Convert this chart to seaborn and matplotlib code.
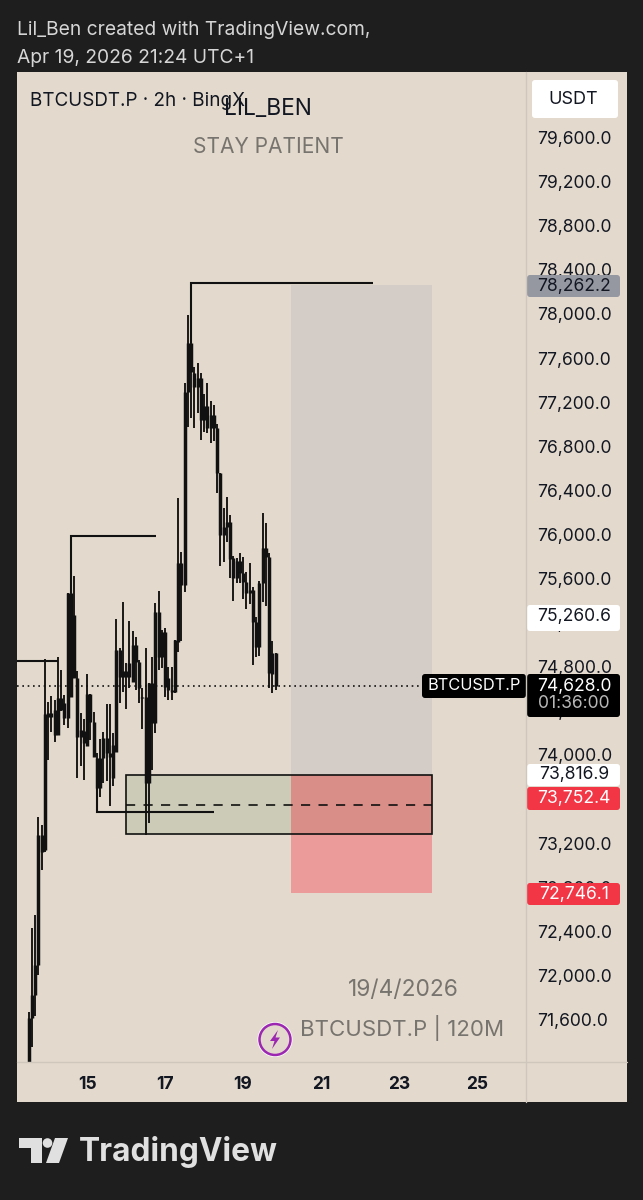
import numpy as np
import pandas as pd
import matplotlib
matplotlib.use('Agg')
import matplotlib.pyplot as plt
from matplotlib.patches import Rectangle, FancyBboxPatch, Polygon, Circle
import seaborn as sns

# 2h candles, first one is Apr 13 12:00
first_day = 13.5
highs = [71669, 72431, 72549, 73438, 73365, 74871, 74481, 74535, 74499, 74889, 74771, 74544, 75469, 75469,
         75624, 74762, 74381, 74327, 74735, 74553, 74390, 74018, 74145, 74209, 74463, 74463, 74200, 75234,
         74970, 75388, 74834, 75215, 75125, 75070, 74862, 74608, 74970, 74653, 74889, 75379, 75487, 75134,
         75152, 74798, 74798, 75043, 76331, 75841, 77374, 77991, 77737, 77519, 77555, 77465, 77274, 77374,
         77211, 77175, 77002, 76558, 76240, 76340, 76177, 75805, 75787, 75832, 75796, 75660, 75741, 75524,
         75252, 75578, 76195, 76104, 75832, 75034, 74925]
body_tops = [71615, 71823, 72095, 73274, 73274, 74372, 74381, 74381, 74408, 74517, 74517, 74472, 75469, 75469,
             75270, 74698, 74227, 74218, 74553, 74553, 74299, 73973, 73973, 74154, 74154, 74018, 74091, 74952,
             74952, 74762, 74762, 74834, 74998, 74998, 74844, 74526, 74526, 74653, 74653, 75297, 75297, 75116,
             75116, 74698, 74590, 75043, 75741, 75741, 77292, 77737, 77737, 77465, 77419, 77419, 77165, 77165,
             77084, 77084, 76966, 76558, 76068, 76113, 76113, 75787, 75760, 75760, 75651, 75569, 75497, 75497,
             75206, 75560, 75877, 75877, 75796, 74925, 74925]
body_bottoms = [71215, 71615, 71823, 72095, 73120, 73138, 74345, 74345, 74181, 74181, 74408, 74336, 74336, 74526,
                74698, 74163, 74163, 74109, 74082, 74299, 73982, 73701, 73701, 73973, 74018, 73982, 73791, 74027,
                74707, 74707, 74707, 74707, 74662, 74844, 74608, 74517, 73746, 73746, 74290, 74290, 74889, 74889,
                74617, 74590, 74571, 74571, 75025, 75542, 75542, 77292, 77474, 77338, 77338, 77038, 77038, 76966,
                76966, 76966, 76558, 75995, 75995, 76068, 75778, 75605, 75605, 75651, 75569, 75469, 75469, 75206,
                74980, 74980, 75560, 75796, 74744, 74735, 74628]
lows = [71098, 71352, 71633, 72005, 72957, 73120, 73955, 74209, 74118, 74181, 74399, 74272, 74245, 74526,
        74698, 73791, 73900, 73773, 74082, 74136, 73982, 73683, 73619, 73746, 73764, 73537, 73719, 74027,
        74472, 74571, 74417, 74608, 74662, 74590, 74472, 74236, 73274, 73383, 73864, 74200, 74771, 74789,
        74526, 74499, 74499, 74562, 74934, 75034, 75478, 76975, 77057, 76966, 77102, 76857, 76930, 76921,
        76830, 76848, 76376, 75714, 75750, 75932, 75605, 75397, 75560, 75560, 75415, 75324, 75370, 74816,
        74889, 74898, 75388, 75351, 74608, 74562, 74590]

price_ticks = [71600, 72000, 72400, 72800, 73200, 73600, 74000, 74400, 74800, 75200, 75600, 76000,
               76400, 76800, 77200, 77600, 78000, 78400, 78800, 79200, 79600]
day_ticks = [15, 17, 19, 21, 23, 25]

last_price = 74628
target_price = 78262.2
entry_price = 73816.9
stop_price = 72746.1
position_days = [20.23, 23.85]
zone_days = [16.0, 23.85]
zone_prices = [73283, 73816.9]
zone_mid = 73546

# swing lines: start day, end day, level, price where the drop line ends
level_starts = [17.667, 14.583, 13.2, 15.256]
level_ends = [22.33, 16.77, 14.25, 18.26]
level_prices = [78281, 75986, 74853, 73483]
level_drops = [77737, 75469, 74853, 73701]

BG = '#1e1e1e'
PANE = '#e3dacd'
INK = '#131722'
MUTED = '#77736e'
LINE = '#111111'
FONT = ['Inter', 'DejaVu Sans']
W, H = 643, 1200

sns.set_theme(style='white')
plt.rcParams['font.family'] = FONT

fig = plt.figure(figsize=(W / 100, H / 100), dpi=100, facecolor=BG)


def px_axes(zorder):
    a = fig.add_axes([0, 0, 1, 1], zorder=zorder)
    a.set_xlim(0, W)
    a.set_ylim(H, 0)
    a.axis('off')
    a.patch.set_alpha(0)
    return a


back = px_axes(0)
back.add_patch(Rectangle((17, 72), 610, 1030, fc=PANE, ec='none'))

ax = fig.add_axes([17 / W, 1 - 1062 / H, 509 / W, 990 / H], zorder=1)
ax.patch.set_alpha(0)
ax.set_xlim(13.205, 26.256)
ax.set_ylim(71215, 80195)
sns.despine(ax=ax, left=True, bottom=True, right=True, top=True)

# trade box and zone under the candles
box_width = position_days[1] - position_days[0]
zone_width = zone_days[1] - zone_days[0]
zone_height = zone_prices[1] - zone_prices[0]
ax.add_patch(Rectangle((position_days[0], entry_price), box_width, target_price - entry_price,
                       fc='#d4ccc6', ec='none', zorder=0.5))
ax.add_patch(Rectangle((position_days[0], stop_price), box_width, entry_price - stop_price,
                       fc='#ec9b9b', ec='none', zorder=0.5))
ax.add_patch(Rectangle((zone_days[0], zone_prices[0]), position_days[0] - zone_days[0], zone_height,
                       fc='#cccbb8', ec='none', zorder=0.6))
ax.add_patch(Rectangle((position_days[0], zone_prices[0]), box_width, zone_height,
                       fc='#d98e88', ec='none', zorder=0.6))
ax.add_patch(Rectangle((zone_days[0], zone_prices[0]), zone_width, zone_height,
                       fc='none', ec=LINE, lw=1.2, zorder=1))
ax.plot(zone_days, [zone_mid, zone_mid], color=LINE, lw=1.2, ls=(0, (5.5, 5)), zorder=1)
ax.axhline(last_price, color=LINE, lw=1.2, ls=(0, (1, 2.2)), zorder=1)

# candles as two seaborn line layers, wick then body
days = first_day + np.arange(len(highs)) / 12
wicks = pd.DataFrame({'candle': np.tile(np.arange(len(days)), 2), 'day': np.tile(days, 2),
                      'price': highs + lows})
bodies = pd.DataFrame({'candle': np.tile(np.arange(len(days)), 2), 'day': np.tile(days, 2),
                       'price': body_tops + body_bottoms})
sns.lineplot(data=wicks, x='day', y='price', units='candle', estimator=None, sort=False,
             color=LINE, lw=1.35, solid_capstyle='butt', legend=False, ax=ax, zorder=2)
sns.lineplot(data=bodies, x='day', y='price', units='candle', estimator=None, sort=False,
             color=LINE, lw=2.5, solid_capstyle='butt', legend=False, ax=ax, zorder=2)

for start, end, level, drop in zip(level_starts, level_ends, level_prices, level_drops):
    ax.plot([start, start, end], [drop, level, level], color=LINE, lw=1.5,
            solid_joinstyle='miter', solid_capstyle='butt', zorder=3)

ax.set_xlabel('')
ax.set_ylabel('')
ax.yaxis.tick_right()
ax.set_yticks(price_ticks)
ax.set_yticklabels([f'{p:,.1f}' for p in price_ticks], fontsize=12.6, color=INK)
ax.set_xticks(day_ticks)
ax.set_xticklabels([str(d) for d in day_ticks], fontsize=12.5, color=INK, fontweight='bold')
ax.tick_params(axis='y', length=0, pad=8)
ax.tick_params(axis='x', length=0, pad=10)

top = px_axes(2)
top.plot([526, 526], [72, 1102], color='#cfc7bb', lw=1)
top.plot([17, 627], [1062, 1062], color='#cfc7bb', lw=1)


def price_px(price):
    return H - ax.transData.transform((0, price))[1]


def tag(x0, x1, y0, y1, fc, text=None, color=INK, cx=None, cy=None, size=12.6):
    top.add_patch(FancyBboxPatch((x0 + 2, y0 + 2), x1 - x0 - 4, y1 - y0 - 4, boxstyle='round,pad=2,rounding_size=3',
                                 fc=fc, ec='none', mutation_aspect=1))
    if text:
        top.text(cx if cx else 574, cy if cy else (y0 + y1) / 2, text, color=color, fontsize=size,
                 ha='center', va='center')


tag(532, 618, 80, 118, 'white', 'USDT', cx=573, cy=99, size=13)
tag(527, 620, 275, 297, '#9598a1', f'{target_price:,.1f}')
tag(527, 620, 605, 631, 'white', '75,260.6', cy=617)
tag(527, 620, 674, 717, 'black')
top.text(574, price_px(last_price) + 1, f'{last_price:,.1f}', color='white', fontsize=12.6, ha='center', va='center')
top.text(574, 704, '01:36:00', color='#b8b8b8', fontsize=12.6, ha='center', va='center')
tag(422, 526, 674, 698, 'black', 'BTCUSDT.P', color='white', cx=474, cy=686, size=11.8)
tag(527, 620, 764, 786, 'white', f'{entry_price:,.1f}')
tag(527, 620, 787, 810, '#f23645', '73,752.4', color='white')
tag(527, 620, 883, 905, '#f23645', f'{stop_price:,.1f}', color='white')

# header and watermark text
top.text(17, 30, 'Lil_Ben created with TradingView.com,', color='#d6d6d6', fontsize=13.85, va='center')
top.text(17, 58, 'Apr 19, 2026 21:24 UTC+1', color='#d6d6d6', fontsize=13.85, va='center')
top.text(30, 101, 'BTCUSDT.P · 2h · BingX', color=INK, fontsize=13.6, va='center')
top.text(268, 109, 'LIL_BEN', color=INK, fontsize=16.4, ha='center', va='center')
top.text(268, 147, 'STAY PATIENT', color=MUTED, fontsize=15.1, ha='center', va='center')
top.text(403, 990, '19/4/2026', color=MUTED, fontsize=16.4, ha='center', va='center')
top.text(402, 1028, 'BTCUSDT.P | 120M', color=MUTED, fontsize=16, ha='center', va='center')

# lightning badge
top.add_patch(Circle((275, 1039.5), 17.5, fc='white', ec='none'))
top.add_patch(Circle((275, 1039.5), 15.5, fc=PANE, ec='#9c27b0', lw=1.8))
top.add_patch(Polygon([(278, 1030), (270, 1041), (274.5, 1041), (272, 1049), (280, 1037.5), (275.5, 1037.5)],
                      fc='#9c27b0', ec='none'))

# TradingView logo
logo = '#e0e0e0'
top.add_patch(Polygon([(19, 1138), (42, 1138), (42, 1163), (31, 1163), (31, 1148), (19, 1148)], fc=logo, ec='none'))
top.add_patch(Circle((47.5, 1143), 4.8, fc=logo, ec='none'))
top.add_patch(Polygon([(55, 1138), (68, 1138), (59, 1163), (46, 1163)], fc=logo, ec='none'))
top.text(79, 1152, 'TradingView', color=logo, fontsize=22.8, fontweight='bold', va='center')

fig.savefig('out.png', dpi=100, facecolor=BG)
